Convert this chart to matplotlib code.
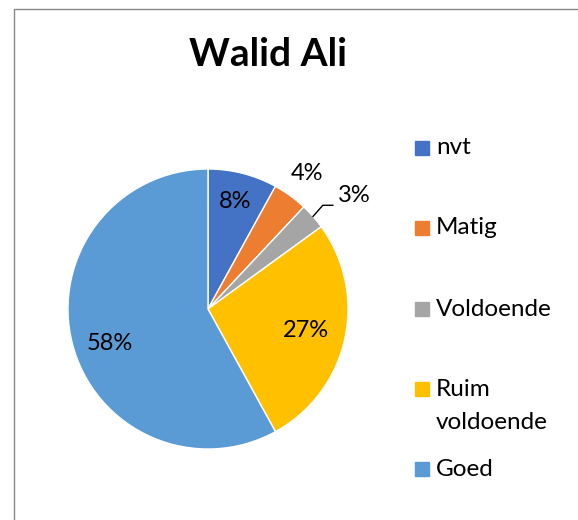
import matplotlib.pyplot as plt
import numpy as np
from matplotlib.lines import Line2D
from matplotlib.patches import Rectangle

plt.rcParams['font.family'] = ['Lato', 'DejaVu Sans']

# Data
categories = ['nvt', 'Matig', 'Voldoende', 'Ruim\nvoldoende', 'Goed']
values = [8, 4, 3, 27, 58]
colors = ['#4472C4', '#ED7D31', '#A5A5A5', '#FFC000', '#5B9BD5']

W, H = 578, 520
fig = plt.figure(figsize=(W / 100, H / 100), dpi=100)

# pie axes: centre (208, 309) px, radius 140 px
cx, cy, rad = 208, 309, 140
ax = fig.add_axes([(cx - rad) / W, 1 - (cy + rad) / H, 2 * rad / W, 2 * rad / H])
wedges, _ = ax.pie(values, colors=colors, startangle=90, counterclock=False,
                   wedgeprops=dict(edgecolor='white', linewidth=1))
ax.set_xlim(-1, 1)
ax.set_ylim(-1, 1)
ax.set_aspect('equal')
ax.axis('off')

# data labels (radius in pie units, angle shift in degrees)
label_r = [0.79, 1.2, 1.32, 0.72, 0.74]
label_shift = [0, 0, -3.5, 0, 5]
for w, v, r, s in zip(wedges, values, label_r, label_shift):
    mid = np.deg2rad((w.theta1 + w.theta2) / 2 + s)
    x, y = r * np.cos(mid), r * np.sin(mid)
    ax.text(x, y, f'{v}%', ha='center', va='center', fontsize=17, color='black')
    if r > 1.25:
        m0 = np.deg2rad((w.theta1 + w.theta2) / 2)
        x0, y0 = np.cos(m0), np.sin(m0)
        ax.plot([x0, x0 + 0.07, x - 0.15], [y0, y - 0.07, y - 0.07],
                color='black', lw=1, clip_on=False)

# title
fig.text(268 / W, 1 - 54 / H, 'Walid Ali', ha='center', va='center',
         fontsize=28, fontweight='bold')

# legend
leg_y = [148, 228, 309, 389, 469]
for lab, col, ly in zip(categories, colors, leg_y):
    fig.add_artist(Rectangle((415 / W, 1 - (ly + 7) / H), 14 / W, 14 / H,
                             transform=fig.transFigure, color=col))
    ty = ly + 17 * lab.count('\n')
    fig.text(436 / W, 1 - ty / H, lab, ha='left', va='center',
             fontsize=17.5, linespacing=1.7)

# chart border
fig.add_artist(Line2D([13.5 / W, 13.5 / W, 1], [0, 1 - 8.5 / H, 1 - 8.5 / H],
                      transform=fig.transFigure, color='#898989', lw=1))

fig.savefig('out.png', dpi=100)
